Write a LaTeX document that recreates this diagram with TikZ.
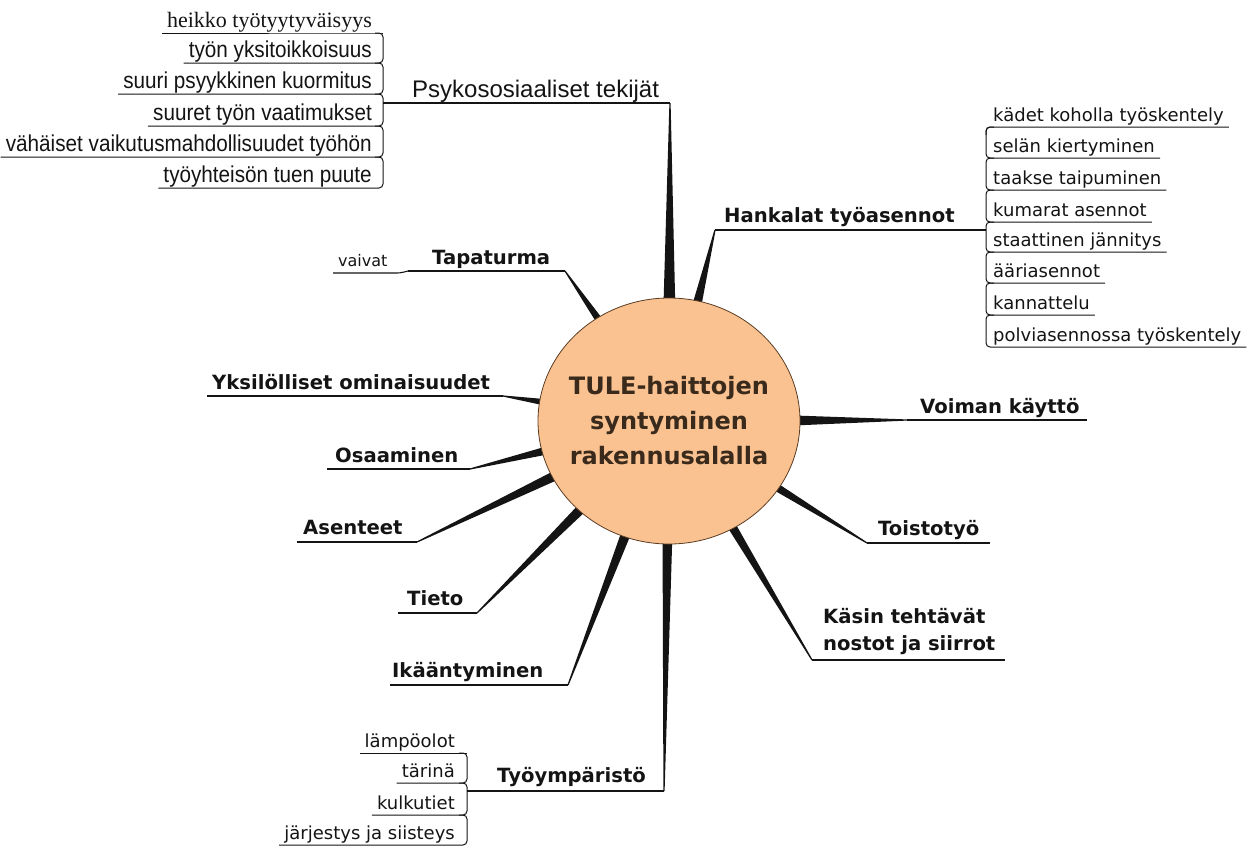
\documentclass[tikz,border=0pt]{standalone}
\usepackage{fontspec}
\setmainfont{DejaVu Sans}
\newfontfamily\arialfont{Liberation Sans}
\newfontfamily\narrowfont{Liberation Sans}[FakeStretch=0.9]
\newfontfamily\seriffont{Liberation Serif}
\usetikzlibrary{calc,backgrounds,shapes.geometric}
\definecolor{peach}{RGB}{250,194,145}
\definecolor{hubtext}{RGB}{58,42,28}
\definecolor{hubline}{RGB}{90,60,35}
\definecolor{ink}{RGB}{20,20,20}

\tikzset{
  branch/.style={font=\fontsize{19.6}{22}\selectfont\bfseries, text=ink, inner sep=0pt, anchor=base west},
  leaf/.style={font=\fontsize{18}{20}\selectfont, text=ink, inner ysep=0pt, inner xsep=5pt},
  psleaf/.style={font=\narrowfont\fontsize{23}{25}\selectfont, text=ink, inner ysep=0pt, inner xsep=5pt, anchor=base east},
  rule/.style={line width=1.1pt, draw=ink},
  brace/.style={line width=1pt, draw=ink, rounded corners=4pt},
}

% tapered spoke from a branch end (#1) into the hub node (#2), half base width #3
\newcommand\spoke[3]{%
  \path (#1) -- (#2) coordinate[pos=1.06] (#1b);
  \fill[ink] ($(#1)!0.6pt!90:(#1b)$) -- ($(#1b)!#3!-90:(#1)$)
    -- ($(#1b)!#3!90:(#1)$) -- ($(#1)!0.6pt!-90:(#1b)$) -- cycle;}

\begin{document}
\begin{tikzpicture}[x=1pt,y=-1pt]
\useasboundingbox (0,0) rectangle (1254,847);

% central topic
\node[ellipse, draw=hubline, line width=0.8pt, fill=peach, minimum width=262pt,
  minimum height=246pt, inner sep=0pt] (hub) at (669,421) {};
\node[align=center, text=hubtext, inner sep=0pt,
  font=\fontsize{24}{35}\selectfont\bfseries] (hubtxt) at (hub.center)
  {TULE-haittojen\\syntyminen\\rakennusalalla};

% ---- Psykososiaaliset tekijät ----
\coordinate (psA) at (383,103);
\coordinate (psT) at (670,103);
\draw[rule] (psA) -- (psT);
\node[font=\arialfont\fontsize{24}{26}\selectfont, text=ink, inner sep=0pt, anchor=base west]
  (ps) at (412,97) {Psykososiaaliset tekijät};
\node[psleaf, font=\seriffont\fontsize{22}{24}\selectfont] (ps1) at (377,27) {heikko työtyytyväisyys};
\draw[brace] ([yshift=-6pt]ps1.base west) -- (377,33) -- (383,33);
\foreach \i/\y/\p/\t in {2/63/33/{työn yksitoikkoisuus},
    3/94/63/{suuri psyykkinen kuormitus},
    4/126/94/{suuret työn vaatimukset},
    5/157/126/{vähäiset vaikutusmahdollisuudet työhön},
    6/188/157/{työyhteisön tuen puute}}{
  \node[psleaf] (ps\i) at (377,\y-6) {\t};
  \draw[brace] (375,\p) -- (383,\p) -- (383,\y) -- ([yshift=-6pt]ps\i.base west);
}

% ---- Hankalat työasennot ----
\coordinate (haA) at (986,230);
\coordinate (haT) at (715,230);
\draw[rule] (haA) -- (haT);
\node[branch] (ha) at (724,222) {Hankalat työasennot};
\node[leaf, anchor=base west] (ha1) at (988,121) {kädet koholla työskentely};
\draw[brace] (986,135) -- (986,127) -- ([yshift=-6pt]ha1.base east);
\foreach \i/\y/\p/\t in {2/158/127/{selän kiertyminen},
    3/190/158/{taakse taipuminen},
    4/222/190/{kumarat asennot},
    5/252/222/{staattinen jännitys},
    6/283/252/{ääriasennot},
    7/315/283/{kannattelu},
    8/347/315/{polviasennossa työskentely}}{
  \node[leaf, anchor=base west] (ha\i) at (988,\y-6) {\t};
  \draw[brace] (994,\p) -- (986,\p) -- (986,\y) -- ([yshift=-6pt]ha\i.base east);
}

% ---- Tapaturma ----
\coordinate (taA) at (408,271);
\coordinate (taT) at (565,271);
\draw[rule] (taA) -- (taT);
\node[branch] (ta) at (432,264) {Tapaturma};
\node[font=\fontsize{16}{18}\selectfont, text=ink, inner sep=0pt, anchor=base west]
  (ta1) at (338,266) {vaivat};
\coordinate (ta1L) at (333,273);
\draw[rule, rounded corners=3pt] (ta1L) -- (400,273) -- (taA);

% ---- left-hand branches ----
\coordinate (yoA) at (207,396);  \coordinate (yoT) at (503,396);
\coordinate (osA) at (327,469);  \coordinate (osT) at (470,469);
\coordinate (asA) at (297,542);  \coordinate (asT) at (417,542);
\coordinate (tiA) at (398,613);  \coordinate (tiT) at (477,613);
\coordinate (ikA) at (390,685);  \coordinate (ikT) at (568,685);
\foreach \n in {yo,os,as,ti,ik}{\draw[rule] (\n A) -- (\n T);}
\node[branch] (yo) at (212,389) {Yksilölliset ominaisuudet};
\node[branch] (os) at (335,462) {Osaaminen};
\node[branch] (as) at (303,534) {Asenteet};
\node[branch] (ti) at (407,605) {Tieto};
\node[branch] (ik) at (392,677) {Ikääntyminen};

% ---- Työympäristö ----
\coordinate (tyA) at (467,791);
\coordinate (tyT) at (664,791);
\draw[rule] (tyA) -- (tyT);
\node[branch] (ty) at (497,782) {Työympäristö};
\node[leaf, anchor=base east] (ty1) at (460,747) {lämpöolot};
\draw[brace] ([yshift=-6pt]ty1.base west) -- (460,753) -- (467,753);
\foreach \i/\y/\p/\t in {2/783/753/{tärinä},
    3/815/783/{kulkutiet},
    4/845/815/{järjestys ja siisteys}}{
  \node[leaf, anchor=base east] (ty\i) at (460,\y-6) {\t};
  \draw[brace] (459,\p) -- (467,\p) -- (467,\y) -- ([yshift=-6pt]ty\i.base west);
}

% ---- right-hand branches ----
\coordinate (voT) at (907,420);  \coordinate (voA) at (1087,420);
\coordinate (toT) at (867,543);  \coordinate (toA) at (990,543);
\coordinate (kaT) at (812,660);  \coordinate (kaA) at (1005,660);
\foreach \n in {vo,to,ka}{\draw[rule] (\n T) -- (\n A);}
\node[branch] (vo) at (920,413) {Voiman käyttö};
\node[branch] (to) at (878,535) {Toistotyö};
\node[branch, anchor=south west, align=left, font=\fontsize{19.6}{27}\selectfont\bfseries]
  (ka) at (823,655) {Käsin tehtävät\\nostot ja siirrot};

% tapered spokes behind the central topic
\begin{scope}[on background layer]
  \spoke{psT}{hub}{6pt}
  \spoke{haT}{hub}{4.5pt}
  \spoke{taT}{hub}{3.5pt}
  \spoke{yoT}{hub}{3pt}
  \spoke{osT}{hub}{4pt}
  \spoke{asT}{hub}{5pt}
  \spoke{tiT}{hub}{5pt}
  \spoke{ikT}{hub}{5pt}
  \spoke{tyT}{hub}{5pt}
  \spoke{voT}{hub}{5pt}
  \spoke{toT}{hub}{4pt}
  \spoke{kaT}{hub}{4.5pt}
\end{scope}
\end{tikzpicture}
\end{document}
